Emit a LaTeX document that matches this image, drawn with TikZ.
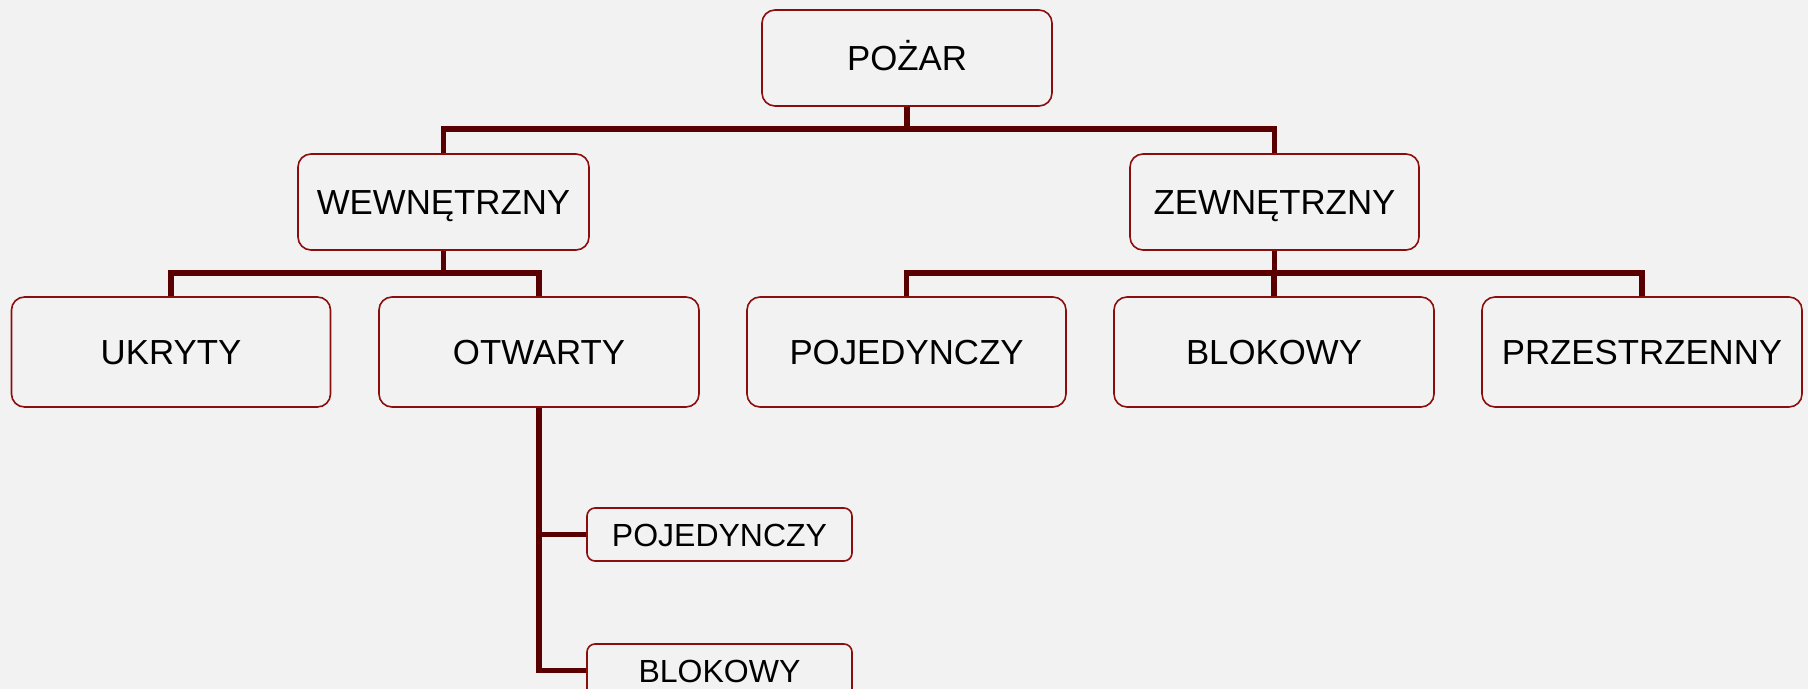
\documentclass[tikz,border=0pt]{standalone}
\usepackage{fontspec}
\setmainfont{Liberation Sans}
\definecolor{bg}{HTML}{F2F2F2}
\definecolor{boxline}{HTML}{8B0E0E}
\definecolor{conn}{HTML}{5A0000}
\begin{document}
\begin{tikzpicture}[x=0.5pt,y=-0.5pt,
  bigbox/.style={draw=boxline,line width=0.8pt,fill=bg,rounded corners=6.5pt,
    minimum width=#1*0.5pt,minimum height=48pt,inner sep=0pt,
    font=\fontsize{17.4pt}{20pt}\selectfont,text height=12.5pt,text depth=0pt},
  smallbox/.style={draw=boxline,line width=0.8pt,fill=bg,rounded corners=4pt,
    minimum width=132.5pt,minimum height=26.5pt,inner sep=0pt,
    font=\fontsize{16pt}{18pt}\selectfont,text height=11.5pt,text depth=0pt},
  connector/.style={draw=conn,line width=2.7pt,line join=miter}]
\fill[bg] (0,0) rectangle (1808,689);
\useasboundingbox (0,0) rectangle (1808,689);
\coordinate (topbar) at (0,129);
\coordinate (lowbar) at (0,273);
\node[bigbox=290] (poz) at (907,58) {POŻAR};
\node[bigbox=291] (wew) at (443.5,202) {WEWNĘTRZNY};
\node[bigbox=289] (zew) at (1274.5,202) {ZEWNĘTRZNY};
\node[bigbox=319,minimum height=55pt] (ukr) at (171,352) {UKRYTY};
\node[bigbox=320,minimum height=55pt] (otw) at (539,352) {OTWARTY};
\node[bigbox=319,minimum height=55pt] (poj) at (906.5,352) {POJEDYNCZY};
\node[bigbox=320,minimum height=55pt] (blo) at (1274,352) {BLOKOWY};
\node[bigbox=320,minimum height=55pt] (prz) at (1642,352) {PRZESTRZENNY};
\node[smallbox] (spoj) at (719.5,534.5) {POJEDYNCZY};
\node[smallbox] (sblo) at (719.5,670.5) {BLOKOWY};
\path[connector] (poz.south) -- (poz.south |- topbar);
\path[connector] (wew.north) -- (wew.north |- topbar) -| (zew.north);
\path[connector] (wew.south) -- (wew.south |- lowbar);
\path[connector] (ukr.north) -- (ukr.north |- lowbar) -| (otw.north);
\path[connector] (zew.south) -- (zew.south |- lowbar);
\path[connector] (poj.north) -- (poj.north |- lowbar) -| (prz.north);
\path[connector] (blo.north) -- (blo.north |- lowbar);
\path[connector] (otw.south) -- (otw.south |- sblo.west) -- (sblo.west);
\path[connector] (otw.south |- spoj.west) -- (spoj.west);
\end{tikzpicture}
\end{document}
